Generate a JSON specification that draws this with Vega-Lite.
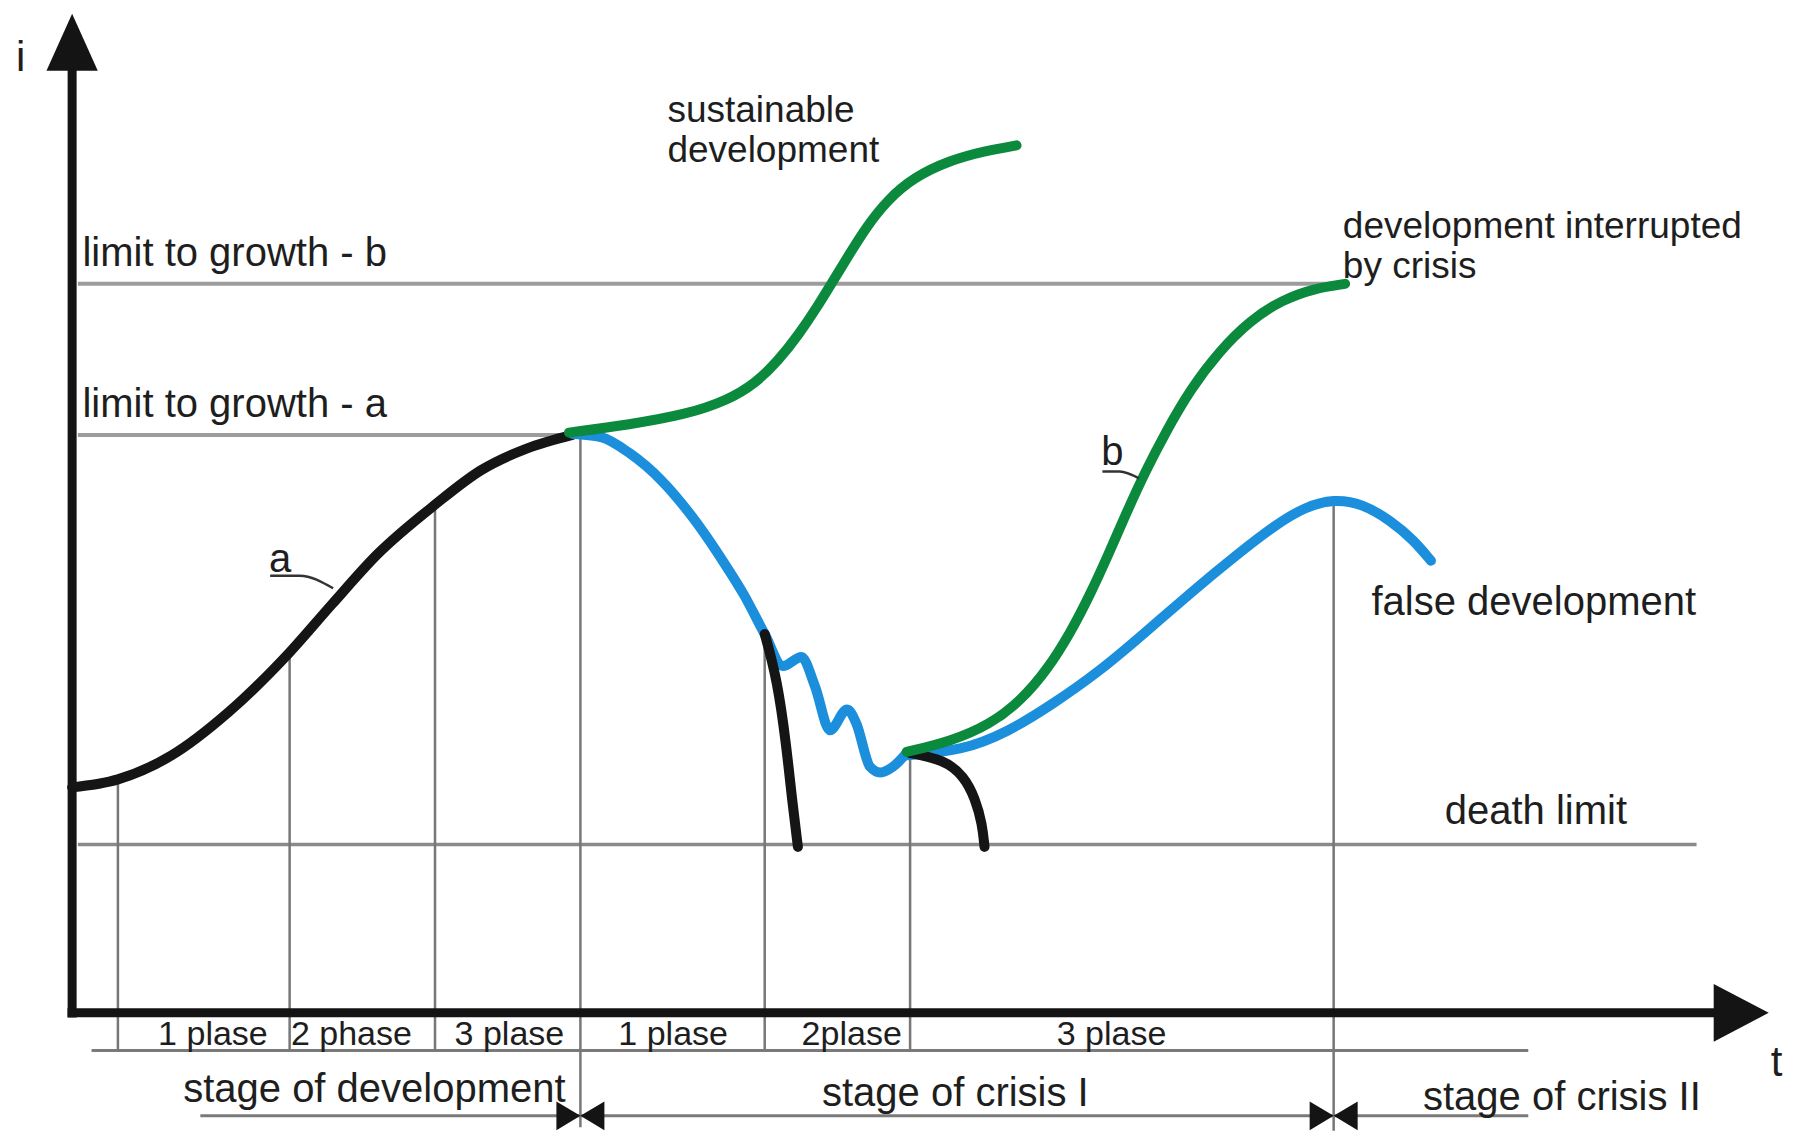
{
  "$schema": "https://vega.github.io/schema/vega-lite/v6.json",
  "width": 1795,
  "height": 1133,
  "autosize": {"type": "fit", "contains": "padding"},
  "padding": 0,
  "background": "white",
  "config": {"view": {"stroke": null}, "text": {"font": "Liberation Sans", "color": "#1e1e1e"}},
  "encoding": {
    "x": {"field": "t", "type": "quantitative", "scale": {"domain": [0, 1568], "nice": false, "zero": false}, "axis": null},
    "y": {"field": "i", "type": "quantitative", "scale": {"domain": [0, 990], "nice": false, "zero": false}, "axis": null}
  },
  "datasets": {
    "limits": [
      {"name": "limit to growth - b", "t": 68, "t2": 1172, "i": 742},
      {"name": "limit to growth - a", "t": 68, "t2": 500, "i": 610}
    ],
    "death": [{"name": "death limit", "t": 68, "t2": 1482, "i": 252}],
    "rows": [
      {"name": "phases", "t": 80, "t2": 1335, "i": 72},
      {"name": "stages", "t": 175, "t2": 1335, "i": 15}
    ],
    "vlines": [
      {"t": 103, "i": 309, "i2": 72},
      {"t": 253, "i": 420, "i2": 72},
      {"t": 380, "i": 549, "i2": 72},
      {"t": 507, "i": 610, "i2": 5},
      {"t": 668, "i": 436, "i2": 72},
      {"t": 795, "i": 333, "i2": 72},
      {"t": 1165, "i": 553, "i2": 2}
    ],
    "yaxis": [{"t": 63, "i": 101, "i2": 930}],
    "xaxis": [{"t": 59, "t2": 1500, "i": 105}],
    "yarrow": [{"t": 63, "i": 953}],
    "xarrow": [{"t": 1521, "i": 105}],
    "bowties": [{"t": 507, "i": 15}, {"t": 1165, "i": 15}],
    "curveA": [
      {"k": 0, "t": 63, "i": 302}, {"k": 1, "t": 103, "i": 309}, {"k": 2, "t": 150, "i": 330},
      {"k": 3, "t": 200, "i": 368}, {"k": 4, "t": 253, "i": 420}, {"k": 5, "t": 290, "i": 462},
      {"k": 6, "t": 330, "i": 506}, {"k": 7, "t": 380, "i": 549}, {"k": 8, "t": 420, "i": 579},
      {"k": 9, "t": 460, "i": 598}, {"k": 10, "t": 500, "i": 610}
    ],
    "crisis": [
      {"k": 0, "t": 500, "i": 611}, {"k": 1, "t": 525, "i": 608}, {"k": 2, "t": 550, "i": 594},
      {"k": 3, "t": 578, "i": 570}, {"k": 4, "t": 605, "i": 538}, {"k": 5, "t": 630, "i": 502},
      {"k": 6, "t": 650, "i": 470}, {"k": 7, "t": 668, "i": 436}, {"k": 8, "t": 684, "i": 408},
      {"k": 9, "t": 700, "i": 416}, {"k": 10, "t": 712, "i": 390}, {"k": 11, "t": 725, "i": 352},
      {"k": 12, "t": 740, "i": 370}, {"k": 13, "t": 748, "i": 358}, {"k": 14, "t": 760, "i": 320},
      {"k": 15, "t": 769, "i": 315}, {"k": 16, "t": 780, "i": 320}, {"k": 17, "t": 792, "i": 332}
    ],
    "collapse1": [
      {"k": 0, "t": 668, "i": 436}, {"k": 1, "t": 679, "i": 396}, {"k": 2, "t": 687, "i": 338},
      {"k": 3, "t": 692, "i": 290}, {"k": 4, "t": 697, "i": 250}
    ],
    "collapse2": [
      {"k": 0, "t": 795, "i": 332}, {"k": 1, "t": 825, "i": 326}, {"k": 2, "t": 842, "i": 312},
      {"k": 3, "t": 852, "i": 292}, {"k": 4, "t": 858, "i": 270}, {"k": 5, "t": 860, "i": 250}
    ],
    "falseDev": [
      {"k": 0, "t": 792, "i": 330}, {"k": 1, "t": 840, "i": 334}, {"k": 2, "t": 880, "i": 350},
      {"k": 3, "t": 920, "i": 375}, {"k": 4, "t": 960, "i": 403}, {"k": 5, "t": 1000, "i": 437},
      {"k": 6, "t": 1040, "i": 472}, {"k": 7, "t": 1080, "i": 505}, {"k": 8, "t": 1115, "i": 532},
      {"k": 9, "t": 1140, "i": 547}, {"k": 10, "t": 1165, "i": 554}, {"k": 11, "t": 1190, "i": 550},
      {"k": 12, "t": 1215, "i": 535}, {"k": 13, "t": 1235, "i": 518}, {"k": 14, "t": 1250, "i": 500}
    ],
    "curveB": [
      {"k": 0, "t": 792, "i": 333}, {"k": 1, "t": 830, "i": 342}, {"k": 2, "t": 865, "i": 357},
      {"k": 3, "t": 892, "i": 378}, {"k": 4, "t": 915, "i": 405}, {"k": 5, "t": 935, "i": 437},
      {"k": 6, "t": 952, "i": 470}, {"k": 7, "t": 968, "i": 505}, {"k": 8, "t": 984, "i": 542},
      {"k": 9, "t": 1000, "i": 577}, {"k": 10, "t": 1018, "i": 612}, {"k": 11, "t": 1040, "i": 650},
      {"k": 12, "t": 1065, "i": 683}, {"k": 13, "t": 1092, "i": 710}, {"k": 14, "t": 1120, "i": 728},
      {"k": 15, "t": 1148, "i": 738}, {"k": 16, "t": 1175, "i": 742}
    ],
    "sustainable": [
      {"k": 0, "t": 497, "i": 612}, {"k": 1, "t": 550, "i": 619}, {"k": 2, "t": 600, "i": 628},
      {"k": 3, "t": 635, "i": 640}, {"k": 4, "t": 660, "i": 655}, {"k": 5, "t": 680, "i": 675},
      {"k": 6, "t": 698, "i": 698}, {"k": 7, "t": 714, "i": 722}, {"k": 8, "t": 728, "i": 745},
      {"k": 9, "t": 742, "i": 768}, {"k": 10, "t": 757, "i": 792}, {"k": 11, "t": 775, "i": 815},
      {"k": 12, "t": 798, "i": 835}, {"k": 13, "t": 830, "i": 850}, {"k": 14, "t": 860, "i": 858},
      {"k": 15, "t": 888, "i": 863}
    ],
    "leaders": [
      {"g": "a", "k": 0, "t": 236, "i": 487}, {"g": "a", "k": 1, "t": 262, "i": 487}, {"g": "a", "k": 2, "t": 291, "i": 476},
      {"g": "b", "k": 0, "t": 963, "i": 578}, {"g": "b", "k": 1, "t": 978, "i": 578}, {"g": "b", "k": 2, "t": 995, "i": 572}
    ],
    "labels": [
      {"text": "limit to growth - b", "t": 72, "i": 758},
      {"text": "limit to growth - a", "t": 72, "i": 626},
      {"text": "false development", "t": 1198, "i": 453},
      {"text": "death limit", "t": 1262, "i": 270},
      {"text": "a", "t": 235, "i": 490},
      {"text": "b", "t": 962, "i": 584},
      {"text": "stage of development", "t": 160, "i": 27},
      {"text": "stage of crisis I", "t": 718, "i": 24},
      {"text": "stage of crisis II", "t": 1243, "i": 20}
    ],
    "multiLabels": [
      {"text": ["sustainable", "development"], "t": 583, "i": 883},
      {"text": ["development interrupted", "by crisis"], "t": 1173, "i": 782}
    ],
    "axisLabels": [
      {"text": "i", "t": 18, "i": 928},
      {"text": "t", "t": 1552, "i": 50}
    ],
    "phases": [
      {"text": "1 plase", "t": 186, "i": 77},
      {"text": "2 phase", "t": 307, "i": 77},
      {"text": "3 plase", "t": 445, "i": 77},
      {"text": "1 plase", "t": 588, "i": 77},
      {"text": "2plase", "t": 744, "i": 77},
      {"text": "3 plase", "t": 971, "i": 77}
    ]
  },
  "layer": [
    {"data": {"name": "limits"}, "mark": {"type": "rule", "color": "#9c9c9c", "strokeWidth": 4}, "encoding": {"x2": {"field": "t2"}}},
    {"data": {"name": "death"}, "mark": {"type": "rule", "color": "#8a8a8a", "strokeWidth": 3.5}, "encoding": {"x2": {"field": "t2"}}},
    {"data": {"name": "rows"}, "mark": {"type": "rule", "color": "#7a7a7a", "strokeWidth": 3}, "encoding": {"x2": {"field": "t2"}}},
    {"data": {"name": "vlines"}, "mark": {"type": "rule", "color": "#777777", "strokeWidth": 2.5}, "encoding": {"y2": {"field": "i2"}}},
    {"data": {"name": "yaxis"}, "mark": {"type": "rule", "color": "#141414", "strokeWidth": 9}, "encoding": {"y2": {"field": "i2"}}},
    {"data": {"name": "xaxis"}, "mark": {"type": "rule", "color": "#141414", "strokeWidth": 9}, "encoding": {"x2": {"field": "t2"}}},
    {"data": {"name": "yarrow"}, "mark": {"type": "point", "shape": "M0,-1 L0.9,1 L-0.9,1 Z", "size": 3249, "filled": true, "color": "#141414", "opacity": 1}, "encoding": {}},
    {"data": {"name": "xarrow"}, "mark": {"type": "point", "shape": "M1,0 L-1,-1.05 L-1,1.05 Z", "size": 3025, "filled": true, "color": "#141414", "opacity": 1}, "encoding": {}},
    {"data": {"name": "bowties"}, "mark": {"type": "point", "shape": "M-1,-0.6 L0,0 L-1,0.6 Z M1,-0.6 L0,0 L1,0.6 Z", "size": 2304, "filled": true, "color": "#141414", "opacity": 1}, "encoding": {}},
    {"data": {"name": "curveA"}, "mark": {"type": "line", "color": "#151515", "strokeWidth": 10, "strokeCap": "round", "interpolate": "monotone"}, "encoding": {"order": {"field": "k"}}},
    {"data": {"name": "crisis"}, "mark": {"type": "line", "color": "#1b8fdc", "strokeWidth": 10, "strokeCap": "round", "strokeJoin": "round", "interpolate": "monotone"}, "encoding": {"order": {"field": "k"}}},
    {"data": {"name": "collapse1"}, "mark": {"type": "line", "color": "#151515", "strokeWidth": 10, "strokeCap": "round", "interpolate": "basis"}, "encoding": {"order": {"field": "k"}}},
    {"data": {"name": "falseDev"}, "mark": {"type": "line", "color": "#1b8fdc", "strokeWidth": 10, "strokeCap": "round", "interpolate": "basis"}, "encoding": {"order": {"field": "k"}}},
    {"data": {"name": "collapse2"}, "mark": {"type": "line", "color": "#151515", "strokeWidth": 10, "strokeCap": "round", "interpolate": "basis"}, "encoding": {"order": {"field": "k"}}},
    {"data": {"name": "curveB"}, "mark": {"type": "line", "color": "#0b8a3e", "strokeWidth": 10, "strokeCap": "round", "interpolate": "basis"}, "encoding": {"order": {"field": "k"}}},
    {"data": {"name": "sustainable"}, "mark": {"type": "line", "color": "#0b8a3e", "strokeWidth": 10, "strokeCap": "round", "interpolate": "basis"}, "encoding": {"order": {"field": "k"}}},
    {"data": {"name": "leaders"}, "mark": {"type": "line", "color": "#333333", "strokeWidth": 2.5, "interpolate": "monotone"}, "encoding": {"detail": {"field": "g"}, "order": {"field": "k"}}},
    {"data": {"name": "labels"}, "mark": {"type": "text", "fontSize": 40, "align": "left", "baseline": "alphabetic"}, "encoding": {"text": {"field": "text"}}},
    {"data": {"name": "multiLabels"}, "mark": {"type": "text", "fontSize": 37, "lineHeight": 40, "align": "left", "baseline": "alphabetic"}, "encoding": {"text": {"field": "text"}}},
    {"data": {"name": "axisLabels"}, "mark": {"type": "text", "fontSize": 42, "align": "center", "baseline": "alphabetic"}, "encoding": {"text": {"field": "text"}}},
    {"data": {"name": "phases"}, "mark": {"type": "text", "fontSize": 34, "align": "center", "baseline": "alphabetic"}, "encoding": {"text": {"field": "text"}}}
  ]
}
